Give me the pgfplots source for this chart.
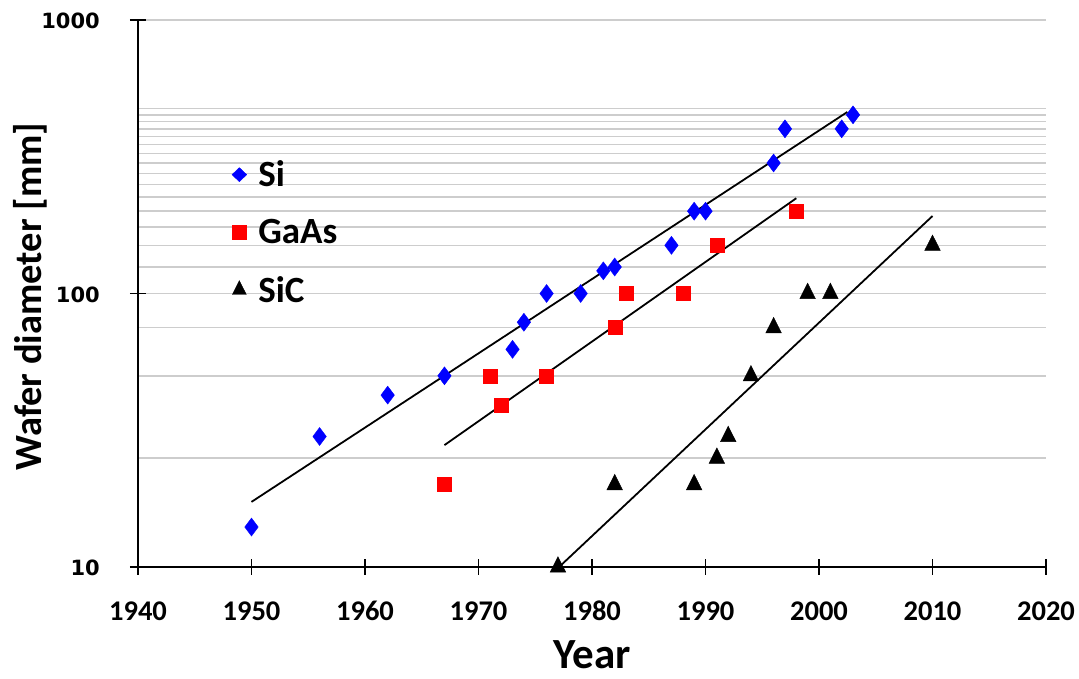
\documentclass[border=0pt]{standalone}
\usepackage{fontspec}
\setmainfont{Carlito}
\newfontfamily\yfont{DejaVu Sans}
\usepackage{pgfplots}
\pgfplotsset{compat=1.18}
\definecolor{sicol}{RGB}{0,0,255}
\definecolor{gacol}{RGB}{255,0,0}
\definecolor{gridc}{RGB}{205,205,205}
\begin{document}
\begin{tikzpicture}
\begin{axis}[
  scale only axis, width=908pt, height=547pt,
  xmin=1940, xmax=2020, ymode=log, ymin=10, ymax=1000,
  axis x line=bottom, axis y line=left,
  axis line style={-, line width=1.8pt, black},
  xtick={1940,1950,1960,1970,1980,1990,2000,2010,2020},
  ytick={10,100,1000}, yticklabels={10,100,1000},
  minor ytick={25,50,75,125,150,175,200,225,250,275,300,325,350,375,400,425,450,475},
  ymajorgrids, yminorgrids,
  major grid style={gridc, line width=1.6pt},
  minor grid style={gridc, line width=1.6pt},
  tick align=center, major tick length=16pt, minor tick length=0pt,
  tick style={black, line width=1.8pt},
  /pgf/number format/1000 sep={}, /pgf/number format/assume math mode=true,
  xticklabel style={font=\bfseries\fontsize{28.5}{28.5}\selectfont, anchor=center, yshift=-36pt},
  yticklabel style={font=\yfont\bfseries\fontsize{21}{21}\selectfont, anchor=east, inner sep=0pt, xshift=-30pt, yshift=-1pt},
  xlabel={Year}, ylabel={Wafer diameter [mm]},
  every axis x label/.style={at={(rel axis cs:0.5,0)}, yshift=-88pt, anchor=center, inner sep=0pt, font=\bfseries\fontsize{43}{43}\selectfont},
  every axis y label/.style={at={(rel axis cs:0,0.5)}, xshift=-108pt, yshift=-3pt, rotate=90, anchor=center, inner sep=0pt, font=\bfseries\fontsize{38.5}{38.5}\selectfont},
  legend style={draw=none, fill=none, at={(0.1,0.75)}, anchor=north west, font=\bfseries\fontsize{37}{37}\selectfont, row sep=27pt},
  legend cell align=left,
  clip=false,
]
\addplot[only marks, mark=diamond*, mark size=9pt, color=sicol,
  legend image code/.code={\path[draw=none] (0pt,0pt) -- (17pt,0pt);\draw[sicol, mark=diamond*, mark size=7pt, mark options={xscale=1.4}] plot coordinates {(0pt,0pt)};}] coordinates {
(1950,14) (1956,30) (1962,42.5) (1967,50) (1973,62.5) (1974,78.5) (1976,100) (1979,100)
(1981,121) (1982,125) (1987,150) (1989,200) (1990,200) (1996,300) (1997,400) (2002,400) (2003,450)};
\addlegendentry{Si}
\addplot[only marks, mark=square*, mark size=7pt, color=gacol,
  legend image code/.code={\path[draw=none] (0pt,0pt) -- (17pt,0pt);\draw[gacol, mark=square*, mark size=7pt] plot coordinates {(0pt,0pt)};}] coordinates {
(1967,20) (1971,50) (1972,39) (1976,50) (1982,75) (1983,100) (1988,100) (1991,150) (1998,200)};
\addlegendentry{GaAs}
\addplot[only marks, mark=triangle*, mark size=9pt, mark options={yscale=1.15}, color=black,
  legend image code/.code={\path[draw=none] (0pt,0pt) -- (17pt,0pt);\draw[black, mark=triangle*, mark size=8pt] plot coordinates {(0pt,0pt)};}] coordinates {
(1977,10) (1982,20) (1989,20) (1991,25) (1992,30) (1994,50) (1996,75) (1999,100) (2001,100) (2010,150)};
\addlegendentry{SiC}
\addplot[forget plot, black, line width=1.8pt] coordinates {(1950,17.3) (2002.5,461)};
\addplot[forget plot, black, line width=1.8pt] coordinates {(1967,27.9) (1998,223)};
\addplot[forget plot, black, line width=1.8pt] coordinates {(1977.1,10) (2010,192)};
\path ([xshift=-138pt,yshift=-112pt]rel axis cs:0,0) rectangle ([xshift=33pt,yshift=20pt]rel axis cs:1,1);
\end{axis}
\end{tikzpicture}
\end{document}
